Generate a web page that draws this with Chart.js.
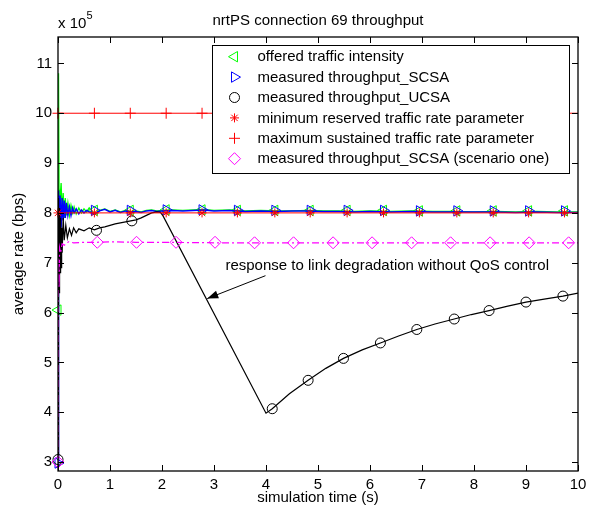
<!DOCTYPE html>
<html>
<head>
<meta charset="utf-8">
<script src="https://cdn.jsdelivr.net/npm/chart.js@4/dist/chart.umd.min.js"></script>
<style>
  body { margin: 0; background: #fff; }
  canvas { display: block; }
</style>
</head>
<body>
<canvas id="IDThroughputChart" width="596" height="516"></canvas>
<script>
// time samples (s) shared by the offered / SCSA traces
const timeS = [0, 0.01, 0.02, 0.04, 0.06, 0.08, 0.1, 0.12, 0.14, 0.16,
  0.19, 0.22, 0.25, 0.28, 0.31, 0.35, 0.4, 0.45, 0.5, 0.55,
  0.6, 0.7, 0.8, 0.9, 1.0, 1.1, 1.2, 1.3, 1.4, 1.5,
  1.6, 1.7, 1.8, 1.9, 2.0, 2.2, 2.4, 2.6, 2.8, 3.0,
  3.3, 3.6, 3.9, 4.2, 4.5, 4.8, 5.1, 5.4, 5.7, 6.0,
  6.4, 6.8, 7.2, 7.6, 8.0, 8.4, 8.8, 9.2, 9.6, 10];

// rates in units of 1e5 bps
const offered = [6.05, 10.8, 8.5, 8.3, 8.6, 8.0, 8.4, 7.9, 8.3, 7.95,
  8.2, 7.95, 8.15, 8.0, 8.12, 7.98, 8.1, 8.0, 8.08, 8.02,
  8.1, 7.98, 8.05, 8.08, 8.03, 8.06, 8.02, 8.05, 8.03, 8.04,
  8.02, 8.05, 8.06, 8.04, 8.05, 8.06, 8.05, 8.06, 8.07, 8.05,
  8.06, 8.04, 8.05, 8.04, 8.04, 8.05, 8.04, 8.04, 8.03, 8.04,
  8.03, 8.04, 8.03, 8.03, 8.02, 8.03, 8.02, 8.03, 8.02, 8.02];

const scsa = [2.98, 8.45, 7.8, 8.35, 7.7, 8.3, 7.85, 8.25, 7.9, 8.2,
  7.95, 8.12, 7.95, 8.1, 8.0, 8.08, 7.98, 8.06, 8.0, 8.05,
  8.02, 7.98, 8.04, 8.07, 8.02, 8.05, 8.01, 8.04, 8.02, 8.03,
  8.01, 8.04, 8.05, 8.03, 8.04, 8.05, 8.04, 8.05, 8.06, 8.04,
  8.05, 8.03, 8.04, 8.03, 8.04, 8.04, 8.03, 8.03, 8.02, 8.03,
  8.02, 8.03, 8.02, 8.02, 8.02, 8.02, 8.01, 8.02, 8.01, 8.01];

const timeU = [0, 0.01, 0.02, 0.03, 0.04, 0.05, 0.06, 0.07, 0.08, 0.1,
  0.12, 0.15, 0.18, 0.22, 0.26, 0.3, 0.35, 0.4, 0.5, 0.6,
  0.7, 0.8, 0.9, 1.0, 1.1, 1.2, 1.3, 1.4, 1.5, 1.6,
  1.7, 1.8, 1.9, 1.97, 2.02, 4.0, 4.12, 4.45, 4.81, 5.15,
  5.49, 5.85, 6.2, 6.55, 6.9, 7.25, 7.62, 7.95, 8.29, 8.65,
  9.0, 9.35, 9.71, 10];
const ucsa = [3.05, 8.3, 6.4, 8.1, 6.8, 7.9, 6.9, 7.7, 7.2, 7.9,
  7.45, 7.75, 7.5, 7.68, 7.55, 7.7, 7.6, 7.68, 7.64, 7.7,
  7.66, 7.7, 7.72, 7.75, 7.78, 7.8, 7.82, 7.84, 7.86, 7.9,
  7.95, 8.0, 8.02, 8.01, 7.94, 3.98, 4.07, 4.37, 4.64, 4.88,
  5.08, 5.25, 5.39, 5.53, 5.66, 5.77, 5.87, 5.96, 6.04, 6.13,
  6.21, 6.27, 6.33, 6.39];

const timeM = [0, 0.01, 0.02, 0.03, 0.05, 0.08, 0.12, 0.2, 0.3, 0.5,
  0.75, 1.0, 1.5, 2.0, 3.0, 4.0, 5.0, 6.0, 7.0, 8.0, 9.0, 10];
const scsaOne = [3.0, 7.1, 6.5, 7.3, 7.2, 7.38, 7.35, 7.42, 7.4, 7.41,
  7.41, 7.42, 7.41, 7.41, 7.4, 7.4, 7.4, 7.4, 7.4, 7.4, 7.4, 7.4];

const paramTime = [0, 10];
const minReserved = [8, 8];
const maxSustained = [10, 10];

// marker positions (MATLAB draws markers on a subset of samples)
const markT = [0, 0.7, 1.39, 2.08, 2.77, 3.45, 4.17, 4.85, 5.56, 6.26, 6.95, 7.67, 8.37, 9.05, 9.74];
const offeredMark = [6.05, 8.05, 8.05, 8.06, 8.06, 8.05, 8.05, 8.05, 8.05, 8.05, 8.04, 8.04, 8.04, 8.04, 8.04];
const scsaMark = [2.98, 8.05, 8.05, 8.06, 8.06, 8.05, 8.05, 8.05, 8.05, 8.05, 8.04, 8.04, 8.04, 8.04, 8.04];
const minMark = markT.map(() => 8);
const maxMark = markT.map(() => 10);
const ucsaMarkT = [0, 0.74, 1.42, 4.12, 4.81, 5.49, 6.2, 6.9, 7.62, 8.29, 9.0, 9.71];
const ucsaMark = [3.05, 7.65, 7.84, 4.07, 4.64, 5.08, 5.39, 5.66, 5.87, 6.04, 6.21, 6.33];
const oneMarkT = [0, 0.755, 1.51, 2.27, 3.02, 3.78, 4.53, 5.29, 6.04, 6.8, 7.55, 8.31, 9.06, 9.82];
const oneMark = [3.0, 7.41, 7.41, 7.41, 7.41, 7.4, 7.4, 7.4, 7.4, 7.4, 7.4, 7.4, 7.4, 7.4];

const xTicks = [0, 1, 2, 3, 4, 5, 6, 7, 8, 9, 10];
const yTicks = [3, 4, 5, 6, 7, 8, 9, 10, 11];

const legendLabels = [
  "offered traffic intensity",
  "measured throughput_SCSA",
  "measured throughput_UCSA",
  "minimum reserved traffic rate parameter",
  "maximum sustained traffic rate parameter",
  "measured throughput_SCSA (scenario one)",
];

const FONT = '"Liberation Sans", Arial, Helvetica, sans-serif';
const pts = (xs, ys) => xs.map((x, i) => ({ x, y: ys[i] }));

function lineSet(xs, ys, color, order, width, dash) {
  return {
    data: pts(xs, ys), showLine: true, borderColor: color, borderWidth: width || 1,
    borderDash: dash || [], pointRadius: 0, tension: 0, order,
  };
}
function markSet(xs, ys, color, style, radius, rotation, order) {
  return {
    data: pts(xs, ys), showLine: false, pointStyle: style, pointRadius: radius,
    pointRotation: rotation, pointBorderColor: color, pointBackgroundColor: "rgba(0,0,0,0)",
    pointBorderWidth: 1, order, clip: false,
  };
}

const legendMarks = [
  { color: "#00ff00", style: "triangle", r: 6, rot: -90 },
  { color: "#0000ff", style: "triangle", r: 6, rot: 90 },
  { color: "#000000", style: "circle", r: 5, rot: 0 },
  { color: "#ff0000", style: "star", r: 4.5, rot: 0 },
  { color: "#ff0000", style: "cross", r: 5.5, rot: 0 },
  { color: "#ff00ff", style: "rectRot", r: 6, rot: 0 },
];

const matlabFrame = {
  id: "matlabFrame",
  afterDatasetsDraw(chart) {
    const ctx = chart.ctx;
    const { left, right, top, bottom } = chart.chartArea;
    const xs = chart.scales.x, ys = chart.scales.y;
    ctx.save();

    // annotation arrow + text
    const tipX = xs.getPixelForValue(2.87), tipY = ys.getPixelForValue(6.28);
    const tailX = xs.getPixelForValue(3.99), tailY = ys.getPixelForValue(6.74);
    ctx.strokeStyle = "#000"; ctx.fillStyle = "#000"; ctx.lineWidth = 1;
    ctx.beginPath(); ctx.moveTo(tailX, tailY); ctx.lineTo(tipX, tipY); ctx.stroke();
    const ang = Math.atan2(tipY - tailY, tipX - tailX);
    ctx.beginPath();
    ctx.moveTo(tipX, tipY);
    ctx.lineTo(tipX - 11 * Math.cos(ang) + 4 * Math.sin(ang), tipY - 11 * Math.sin(ang) - 4 * Math.cos(ang));
    ctx.lineTo(tipX - 11 * Math.cos(ang) - 4 * Math.sin(ang), tipY - 11 * Math.sin(ang) + 4 * Math.cos(ang));
    ctx.closePath(); ctx.fill();
    ctx.font = "15px " + FONT;
    ctx.textBaseline = "middle"; ctx.textAlign = "left";
    ctx.fillText("response to link degradation without QoS control", xs.getPixelForValue(3.22), ys.getPixelForValue(6.93));

    // legend box
    const lx = 212, ly = 45, lw = 357, lh = 128;
    ctx.fillStyle = "#fff"; ctx.fillRect(lx, ly, lw, lh);
    ctx.strokeStyle = "#000"; ctx.lineWidth = 1;
    ctx.strokeRect(lx + 0.5, ly + 0.5, lw, lh);
    legendLabels.forEach((label, i) => {
      const cy = 56.7 + i * 20.4;
      const m = legendMarks[i];
      ctx.strokeStyle = m.color; ctx.fillStyle = "rgba(0,0,0,0)"; ctx.lineWidth = 1;
      Chart.helpers.drawPoint(ctx, { pointStyle: m.style, radius: m.r, rotation: m.rot, borderWidth: 1 }, 234.5, cy);
      ctx.fillStyle = "#000";
      ctx.textBaseline = "middle"; ctx.textAlign = "left";
      ctx.fillText(label, 257.5, cy + 0.5);
    });

    // axes box with inward ticks
    ctx.strokeStyle = "#000"; ctx.lineWidth = 1.3;
    ctx.strokeRect(left, top, right - left, bottom - top);
    ctx.lineWidth = 1;
    ctx.beginPath();
    xTicks.forEach(v => {
      const px = Math.round(xs.getPixelForValue(v)) + 0.5;
      ctx.moveTo(px, bottom); ctx.lineTo(px, bottom - 6);
      ctx.moveTo(px, top); ctx.lineTo(px, top + 6);
    });
    yTicks.forEach(v => {
      const py = Math.round(ys.getPixelForValue(v)) + 0.5;
      ctx.moveTo(left, py); ctx.lineTo(left + 6, py);
      ctx.moveTo(right, py); ctx.lineTo(right - 6, py);
    });
    ctx.stroke();

    // title, exponent and axis titles
    ctx.fillStyle = "#000";
    ctx.font = "15px " + FONT;
    ctx.textAlign = "center"; ctx.textBaseline = "alphabetic";
    ctx.fillText("nrtPS connection 69 throughput", (left + right) / 2, 25);
    ctx.textAlign = "left";
    ctx.fillText("x 10", 58, 28);
    ctx.font = "11px " + FONT;
    ctx.fillText("5", 86.5, 19);
    ctx.font = "15px " + FONT;
    ctx.textAlign = "center"; ctx.textBaseline = "middle";
    ctx.fillText("simulation time (s)", (left + right) / 2, 498);
    ctx.translate(19, (top + bottom) / 2);
    ctx.rotate(-Math.PI / 2);
    ctx.fillText("average rate (bps)", 0, 0);
    ctx.restore();
  },
};

new Chart(document.getElementById("IDThroughputChart"), {
  type: "scatter",
  data: {
    datasets: [
      lineSet(timeS, offered, "#00ff00", 12, 1.3),
      markSet(markT, offeredMark, "#00ff00", "triangle", 6, -90, 11),
      lineSet(timeS, scsa, "#0000ff", 10, 1.5),
      markSet(markT, scsaMark, "#0000ff", "triangle", 6, 90, 9),
      lineSet(timeU, ucsa, "#000000", 8, 1.2),
      markSet(ucsaMarkT, ucsaMark, "#000000", "circle", 5, 0, 7),
      lineSet(paramTime, minReserved, "#ff0000", 6, 1),
      markSet(markT, minMark, "#ff0000", "star", 4.5, 0, 5),
      lineSet(paramTime, maxSustained, "#ff0000", 4, 1),
      markSet(markT, maxMark, "#ff0000", "cross", 5.5, 0, 3),
      lineSet(timeM, scsaOne, "#ff00ff", 2, 1.2, [7, 3, 2, 3]),
      markSet(oneMarkT, oneMark, "#ff00ff", "rectRot", 6, 0, 1),
    ],
  },
  options: {
    responsive: false,
    animation: false,
    layout: { padding: { left: 0, right: 18, top: 37, bottom: 0 } },
    plugins: { legend: { display: false }, tooltip: { enabled: false }, title: { display: false } },
    scales: {
      x: {
        type: "linear", min: 0, max: 10,
        afterFit: s => { s.height = 45; },
        afterBuildTicks: s => { s.ticks = xTicks.map(v => ({ value: v })); },
        grid: { display: false, drawTicks: false },
        border: { display: false },
        ticks: { color: "#000", padding: 5, maxRotation: 0, font: { family: FONT, size: 15 } },
      },
      y: {
        type: "linear", min: 2.82, max: 11.53,
        afterFit: s => { s.width = 58; },
        afterBuildTicks: s => { s.ticks = yTicks.map(v => ({ value: v })); },
        grid: { display: false, drawTicks: false },
        border: { display: false },
        ticks: { color: "#000", padding: 6, font: { family: FONT, size: 15 } },
      },
    },
  },
  plugins: [matlabFrame],
});
</script>
</body>
</html>
